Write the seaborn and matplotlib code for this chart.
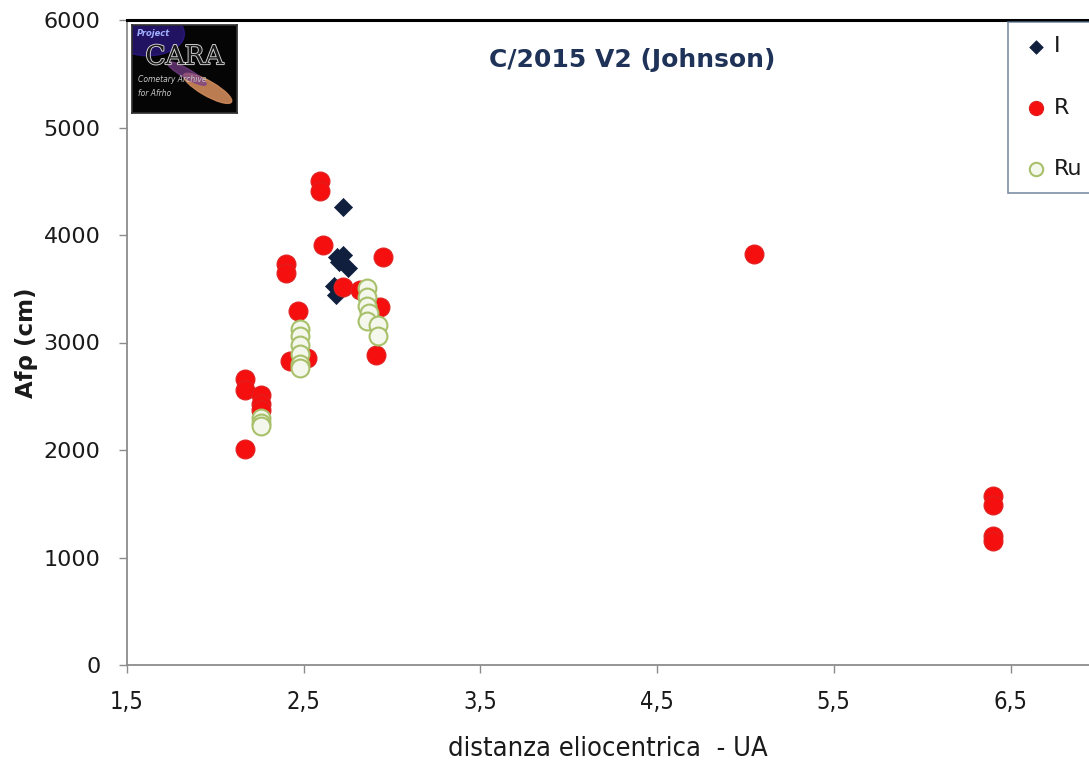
import matplotlib
matplotlib.use("Agg")
import matplotlib.pyplot as plt
import matplotlib.patheffects as pe
import seaborn as sns
import pandas as pd
from matplotlib.patches import Ellipse
from matplotlib.ticker import FixedLocator, FuncFormatter

# Afρ measurements of comet C/2015 V2 (Johnson) by photometric band
i_dist = [2.72, 2.69, 2.72, 2.70, 2.75, 2.67, 2.68]
i_afrho = [4260, 3795, 3815, 3750, 3690, 3530, 3440]

r_dist = [2.59, 2.59, 2.61, 2.95, 2.40, 2.40, 2.72, 2.47, 2.82, 2.93,
          2.42, 2.52, 2.17, 2.17, 2.26, 2.26, 2.26, 2.17, 2.91,
          5.05, 6.40, 6.40, 6.40, 6.40]
r_afrho = [4500, 4410, 3910, 3800, 3730, 3650, 3520, 3290, 3490, 3330,
           2830, 2860, 2660, 2560, 2510, 2430, 2370, 2010, 2880,
           3820, 1570, 1490, 1200, 1150]

ru_dist = [2.26, 2.26, 2.26, 2.48, 2.48, 2.48, 2.48, 2.48, 2.48,
           2.86, 2.86, 2.86, 2.87, 2.86, 2.92, 2.92]
ru_afrho = [2300, 2250, 2220, 3130, 3060, 2980, 2890, 2800, 2760,
            3510, 3420, 3340, 3270, 3200, 3160, 3060]

y_ticks = [0, 1000, 2000, 3000, 4000, 5000, 6000]
x_ticks = [1.5, 2.5, 3.5, 4.5, 5.5, 6.5]
title = "C/2015 V2 (Johnson)"

df_i = pd.DataFrame({"dist": i_dist, "afrho": i_afrho})
df_r = pd.DataFrame({"dist": r_dist, "afrho": r_afrho})
df_ru = pd.DataFrame({"dist": ru_dist, "afrho": ru_afrho})

sns.set_theme(style="white")
plt.rcParams["font.family"] = ["DejaVu Sans"]

W, H = 1089, 763
fig = plt.figure(figsize=(W / 100, H / 100), dpi=100)
left_px, right_px, top_px, bottom_px = 127, 1089, 20, 665
ax = fig.add_axes([left_px / W, 1 - bottom_px / H,
                   (right_px - left_px) / W, (bottom_px - top_px) / H])

sns.scatterplot(data=df_i, x="dist", y="afrho", ax=ax, marker="D", s=85,
                color="#0f1f3d", edgecolor="#0f1f3d", linewidth=0.5,
                label="I", zorder=3)
sns.scatterplot(data=df_r, x="dist", y="afrho", ax=ax, marker="o", s=185,
                color="#f50f0f", edgecolor="#e02020", linewidth=0.8,
                label="R", zorder=4)
sns.scatterplot(data=df_ru, x="dist", y="afrho", ax=ax, marker="o", s=165,
                color="#f4f7ec", edgecolor="#a8c06a", linewidth=1.5,
                label="Ru", zorder=5)

ax.set_xlim(1.5, 1.5 + (right_px - left_px) / 176.7)
ax.set_ylim(0, 6000)
ax.xaxis.set_major_locator(FixedLocator(x_ticks))
ax.yaxis.set_major_locator(FixedLocator(y_ticks))
ax.xaxis.set_major_formatter(FuncFormatter(lambda v, p: f"{v:.1f}".replace(".", ",")))
ax.yaxis.set_major_formatter(FuncFormatter(lambda v, p: f"{int(v)}"))

ax.tick_params(axis="both", which="major", direction="out", length=6,
               width=1, color="#8c8c8c", labelcolor="#1a1a1a")
ax.tick_params(axis="x", pad=12, labelsize=17)
ax.tick_params(axis="y", pad=13, labelsize=16)
ax.xaxis.set_ticks_position("bottom")
ax.yaxis.set_ticks_position("left")
for lab in ax.get_xticklabels():
    lab.set_fontstretch("condensed")

for side in ("left", "bottom"):
    ax.spines[side].set_color("#8c8c8c")
    ax.spines[side].set_linewidth(1.3)
ax.spines["top"].set_color("#000000")
ax.spines["top"].set_linewidth(2.2)
ax.spines["right"].set_visible(False)

ax.set_xlabel("distanza eliocentrica  - UA", fontsize=19.5, color="#1a1a1a",
              labelpad=16, fontstretch="condensed")
ax.set_ylabel("Afρ (cm)", fontsize=16.5, fontweight="bold", color="#1a1a1a",
              labelpad=4)

fig.text(632 / W, 1 - 60 / H, title, ha="center", va="center",
         fontsize=18, fontweight="bold", color="#1f3358")

leg = ax.legend(loc="upper left", bbox_to_anchor=(1008 / W, 1 - 22 / H),
                bbox_transform=fig.transFigure, frameon=True, fontsize=16,
                labelspacing=1.85, handletextpad=0.2, borderpad=0.65,
                handlelength=1.2, markerscale=0.75, fancybox=False,
                borderaxespad=0)
leg.get_frame().set_edgecolor("#5d7290")
leg.get_frame().set_linewidth(1.2)
for t in leg.get_texts():
    t.set_color("#1a1a1a")

# Project CARA badge in the upper-left corner of the plot area
badge = fig.add_axes([132 / W, 1 - 113 / H, 105 / W, 88 / H])
badge.set_facecolor("#050505")
badge.set_xlim(0, 1)
badge.set_ylim(0, 1)
badge.set_xticks([])
badge.set_yticks([])
for s in badge.spines.values():
    s.set_color("#303030")
badge.add_patch(Ellipse((0.15, 0.9), 0.7, 0.5, color="#3a1fb0", alpha=0.55))
badge.add_patch(Ellipse((0.72, 0.28), 0.55, 0.16, angle=-35,
                        color="#d08a5a", alpha=0.9))
badge.add_patch(Ellipse((0.52, 0.45), 0.45, 0.1, angle=-35,
                        color="#7a3f8a", alpha=0.7))
badge.text(0.05, 0.9, "Project", fontsize=6, color="#a0b0ff",
           style="italic", fontweight="bold", va="center")
badge.text(0.5, 0.64, "CARA", fontsize=19, color="#1a1a1a", ha="center",
           va="center", family="DejaVu Serif",
           path_effects=[pe.withStroke(linewidth=1.3, foreground="#d8d8d8")])
badge.text(0.06, 0.38, "Cometary Archive", fontsize=5.5, color="#c8c8c8",
           style="italic", va="center")
badge.text(0.06, 0.22, "for Afrho", fontsize=5.5, color="#c8c8c8",
           style="italic", va="center")

fig.savefig("out.png", dpi=100, facecolor="white")
